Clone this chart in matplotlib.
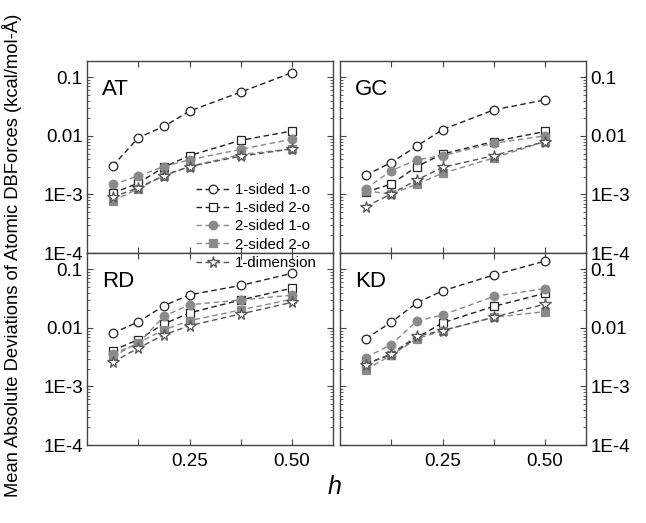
import matplotlib
matplotlib.use("Agg")
import matplotlib.pyplot as plt
from matplotlib.ticker import FixedLocator, FixedFormatter, NullFormatter, LogLocator

plt.rcParams['font.family'] = ['Liberation Sans', 'DejaVu Sans']

h = [0.0625, 0.125, 0.1875, 0.25, 0.375, 0.5]
series_names = ["1-sided 1-o", "1-sided 2-o", "2-sided 1-o", "2-sided 2-o", "1-dimension"]
panels = ["AT", "GC", "RD", "KD"]

AT_1s1o = [0.00305, 0.0093, 0.0145, 0.0265, 0.056, 0.12]
AT_1s2o = [0.00105, 0.00156, 0.00293, 0.0046, 0.0084, 0.0121]
AT_2s1o = [0.00148, 0.00206, 0.0030, 0.0039, 0.0059, 0.0088]
AT_2s2o = [0.00077, 0.00125, 0.0021, 0.0030, 0.0048, 0.0060]
AT_1dim = [0.0009, 0.0013, 0.0021, 0.0030, 0.0045, 0.0060]

GC_1s1o = [0.00213, 0.0035, 0.0067, 0.0128, 0.0278, 0.0412]
GC_1s2o = [0.0011, 0.0015, 0.0030, 0.0049, 0.0080, 0.0119]
GC_2s1o = [0.00124, 0.00255, 0.0039, 0.0046, 0.0075, 0.0100]
GC_2s2o = [0.00116, 0.00101, 0.0015, 0.0023, 0.0042, 0.0080]
GC_1dim = [0.00062, 0.00102, 0.00177, 0.0029, 0.0046, 0.0080]

RD_1s1o = [0.0081, 0.0126, 0.0239, 0.0367, 0.053, 0.0855]
RD_1s2o = [0.0041, 0.0063, 0.0117, 0.018, 0.030, 0.0477]
RD_2s1o = [0.0036, 0.0054, 0.0158, 0.0248, 0.030, 0.0362]
RD_2s2o = [0.0032, 0.0056, 0.0092, 0.0133, 0.0202, 0.031]
RD_1dim = [0.0026, 0.0045, 0.0076, 0.0109, 0.0173, 0.0273]

KD_1s1o = [0.0065, 0.0125, 0.0268, 0.0429, 0.080, 0.138]
KD_1s2o = [0.00245, 0.0035, 0.0068, 0.0122, 0.0233, 0.039]
KD_2s1o = [0.0031, 0.0052, 0.0131, 0.0166, 0.0344, 0.047]
KD_2s2o = [0.00194, 0.0034, 0.0065, 0.0090, 0.0152, 0.0189]
KD_1dim = [0.00236, 0.0036, 0.0072, 0.0090, 0.0152, 0.0255]

data = {
    "AT": [AT_1s1o, AT_1s2o, AT_2s1o, AT_2s2o, AT_1dim],
    "GC": [GC_1s1o, GC_1s2o, GC_2s1o, GC_2s2o, GC_1dim],
    "RD": [RD_1s1o, RD_1s2o, RD_2s1o, RD_2s2o, RD_1dim],
    "KD": [KD_1s1o, KD_1s2o, KD_2s1o, KD_2s2o, KD_1dim],
}

ytick_vals = [1e-4, 1e-3, 0.01, 0.1]
ytick_labels = ["1E-4", "1E-3", "0.01", "0.1"]
xtick_vals = [0.25, 0.5]
xtick_labels = ["0.25", "0.50"]

styles = [
    dict(marker='o', mfc='white', mec='#222222', color='#222222', ms=6.2),
    dict(marker='s', mfc='white', mec='#222222', color='#222222', ms=5.6),
    dict(marker='o', mfc='#8a8a8a', mec='#8a8a8a', color='#8a8a8a', ms=6.2),
    dict(marker='s', mfc='#8a8a8a', mec='#8a8a8a', color='#8a8a8a', ms=5.6),
    dict(marker='*', mfc='white', mec='#555555', color='#555555', ms=8.5),
]

fig = plt.figure(figsize=(6.46, 5.23), dpi=100)
W, H = 646, 523
pos = {
    "AT": (87, 61), "GC": (340, 61),
    "RD": (87, 253), "KD": (340, 253),
}
aw, ah = 246, 192
frame_col = '#444444'
legend_handles = None

for name in panels:
    x0, y0 = pos[name]
    ax = fig.add_axes([x0 / W, 1 - (y0 + ah) / H, aw / W, ah / H])
    for vals, st in zip(data[name], styles):
        ax.plot(h, vals, linestyle=(0, (4, 2.5)), lw=1.0, markeredgewidth=0.9,
                clip_on=False, **st)
    ax.set_yscale('log')
    ax.set_ylim(1e-4, 0.19)
    ax.set_xlim(0, 0.6)
    ax.yaxis.set_major_locator(FixedLocator(ytick_vals))
    ax.yaxis.set_major_formatter(FixedFormatter(ytick_labels))
    ax.yaxis.set_minor_locator(LogLocator(base=10, subs=range(2, 10), numticks=20))
    ax.yaxis.set_minor_formatter(NullFormatter())
    ax.xaxis.set_major_locator(FixedLocator(xtick_vals))
    ax.xaxis.set_minor_locator(FixedLocator([0.125, 0.375]))
    for s in ax.spines.values():
        s.set_color(frame_col)
        s.set_linewidth(1.0)
    ax.tick_params(which='both', direction='in', top=True, bottom=True,
                   left=True, right=True, color=frame_col, labelsize=13.5)
    ax.tick_params(which='major', length=4, width=0.8)
    ax.tick_params(which='minor', length=2.5, width=0.6)
    ax.tick_params(axis='x', which='minor', length=4, width=0.8)
    if name in ("AT", "GC"):
        ax.set_xticklabels([])
    else:
        ax.set_xticklabels(xtick_labels)
        ax.tick_params(axis='x', pad=6)
    if name in ("AT", "RD"):
        ax.tick_params(axis='y', labelleft=True, labelright=False, pad=3)
    else:
        ax.tick_params(axis='y', labelleft=False, labelright=True, pad=3)
    ax.text(0.06, 0.85, name, transform=ax.transAxes, fontsize=16,
            ha='left', va='center')
    if name == "AT":
        legend_handles = ax.get_lines()

leg = fig.legend(legend_handles, series_names, loc='upper left',
                 bbox_to_anchor=(196 / W, 1 - 183 / H), frameon=False,
                 fontsize=10.8, handlelength=2.3, handletextpad=0.3,
                 labelspacing=0.28, borderpad=0.0, borderaxespad=0.0)
leg.set_zorder(20)

fig.text(12 / W, 1 - 255 / H,
         "Mean Absolute Deviations of Atomic DBForces (kcal/mol-Å)",
         rotation=90, ha='center', va='center', fontsize=13.2)
fig.text(335 / W, 1 - 487 / H, "h", style='italic', fontsize=18,
         ha='center', va='center')

fig.savefig("out.png", dpi=100)
